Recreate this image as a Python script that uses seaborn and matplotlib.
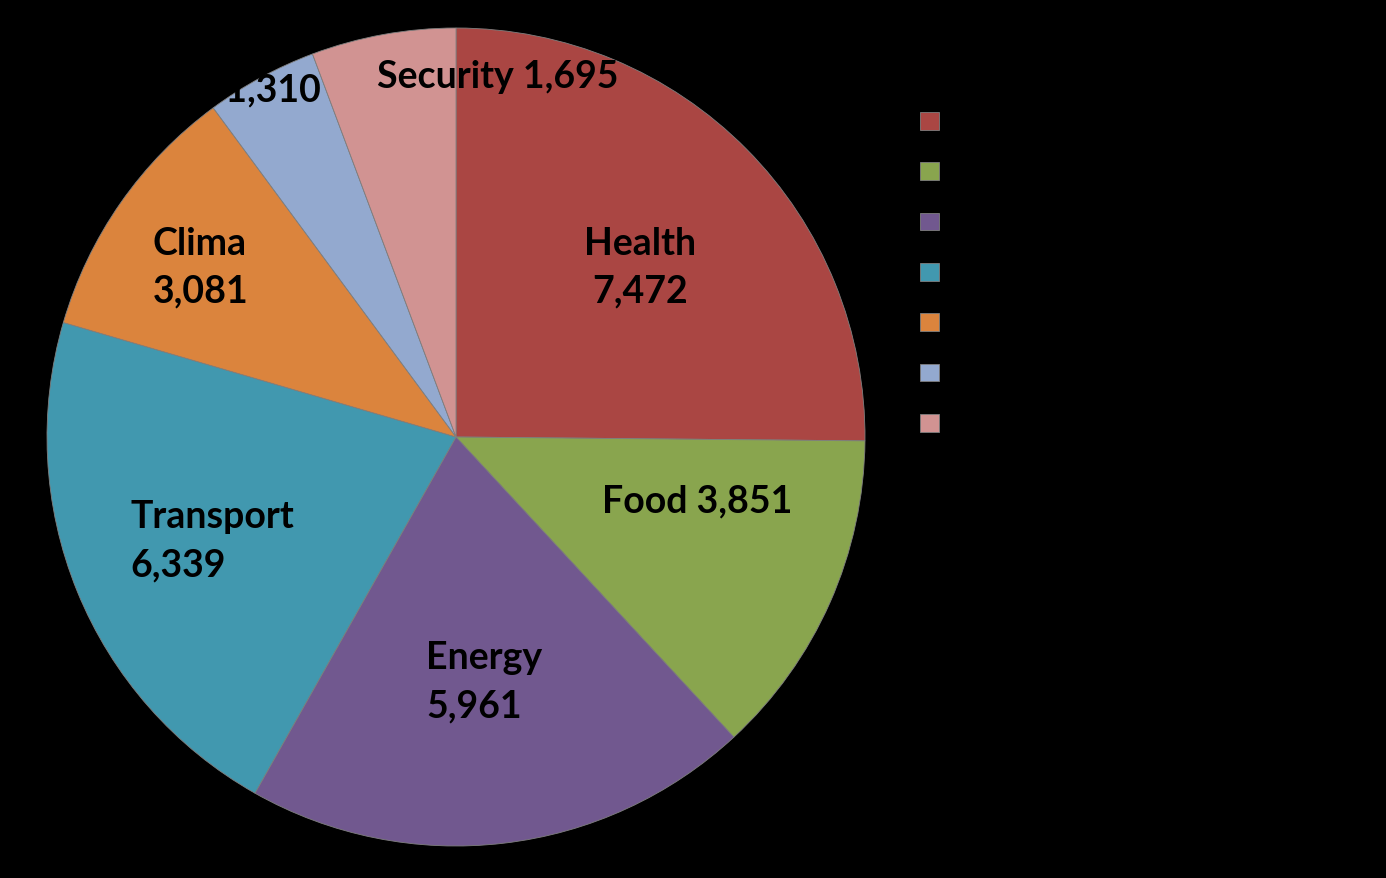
import matplotlib
matplotlib.use("Agg")
import matplotlib.pyplot as plt
import seaborn as sns
import pandas as pd
import numpy as np

categories = ["Health", "Food", "Energy", "Transport", "Clima", "Society", "Security"]
values = [7472, 3851, 5961, 6339, 3081, 1310, 1695]
label_texts = ["Health\n7,472", "Food 3,851", "Energy\n5,961", "Transport\n6,339",
               "Clima\n3,081", "Society 1,310", "Security 1,695"]
colors = ["#AA4643", "#89A54E", "#71588F", "#4198AF", "#DB843D", "#93A9CF", "#D19392"]

df = pd.DataFrame({"category": categories, "value": values})

sns.set_theme(style="white")
plt.rcParams["font.family"] = ["Lato", "DejaVu Sans"]
palette = sns.color_palette(colors)

fig = plt.figure(figsize=(13.86, 8.79), dpi=100, facecolor="black")
R = 409
cx, cy = 456, 879 - 438
ax = fig.add_axes([(cx - R) / 1386, (cy - R) / 879, 2 * R / 1386, 2 * R / 879])
ax.set_facecolor("black")

wedges, _ = ax.pie(df["value"], colors=palette, startangle=90, counterclock=False,
                   radius=1.0, wedgeprops=dict(edgecolor="#7f7f7f", linewidth=0.6))
ax.set_xlim(-1, 1)
ax.set_ylim(-1, 1)
ax.set_aspect("equal")
ax.axis("off")

# label layout (position within pie in radius units, alignment)
layout = [
    ((0.450, 0.416), "center", "center"),
    ((0.589, -0.156), "center", "center"),
    ((-0.073, -0.597), "left", "center"),
    ((-0.797, -0.252), "left", "center"),
    ((-0.741, 0.416), "left", "center"),
    ((-0.330, 0.848), "right", "center"),
    ((0.103, 0.883), "center", "center"),
]
for txt, (pos, ha, va) in zip(label_texts, layout):
    ax.text(pos[0], pos[1], txt, ha=ha, va=va, fontsize=27, fontweight="bold",
            color="black", linespacing=1.5, multialignment=ha)

leg = fig.legend(wedges, categories, loc="upper left",
                 bbox_to_anchor=(900 / 1386, 1 - 93 / 879), frameon=False,
                 labelcolor="black", fontsize=16, handlelength=0.85, handleheight=0.85,
                 labelspacing=1.34, handletextpad=0.6)

fig.savefig("out.png", dpi=100, facecolor="black")
